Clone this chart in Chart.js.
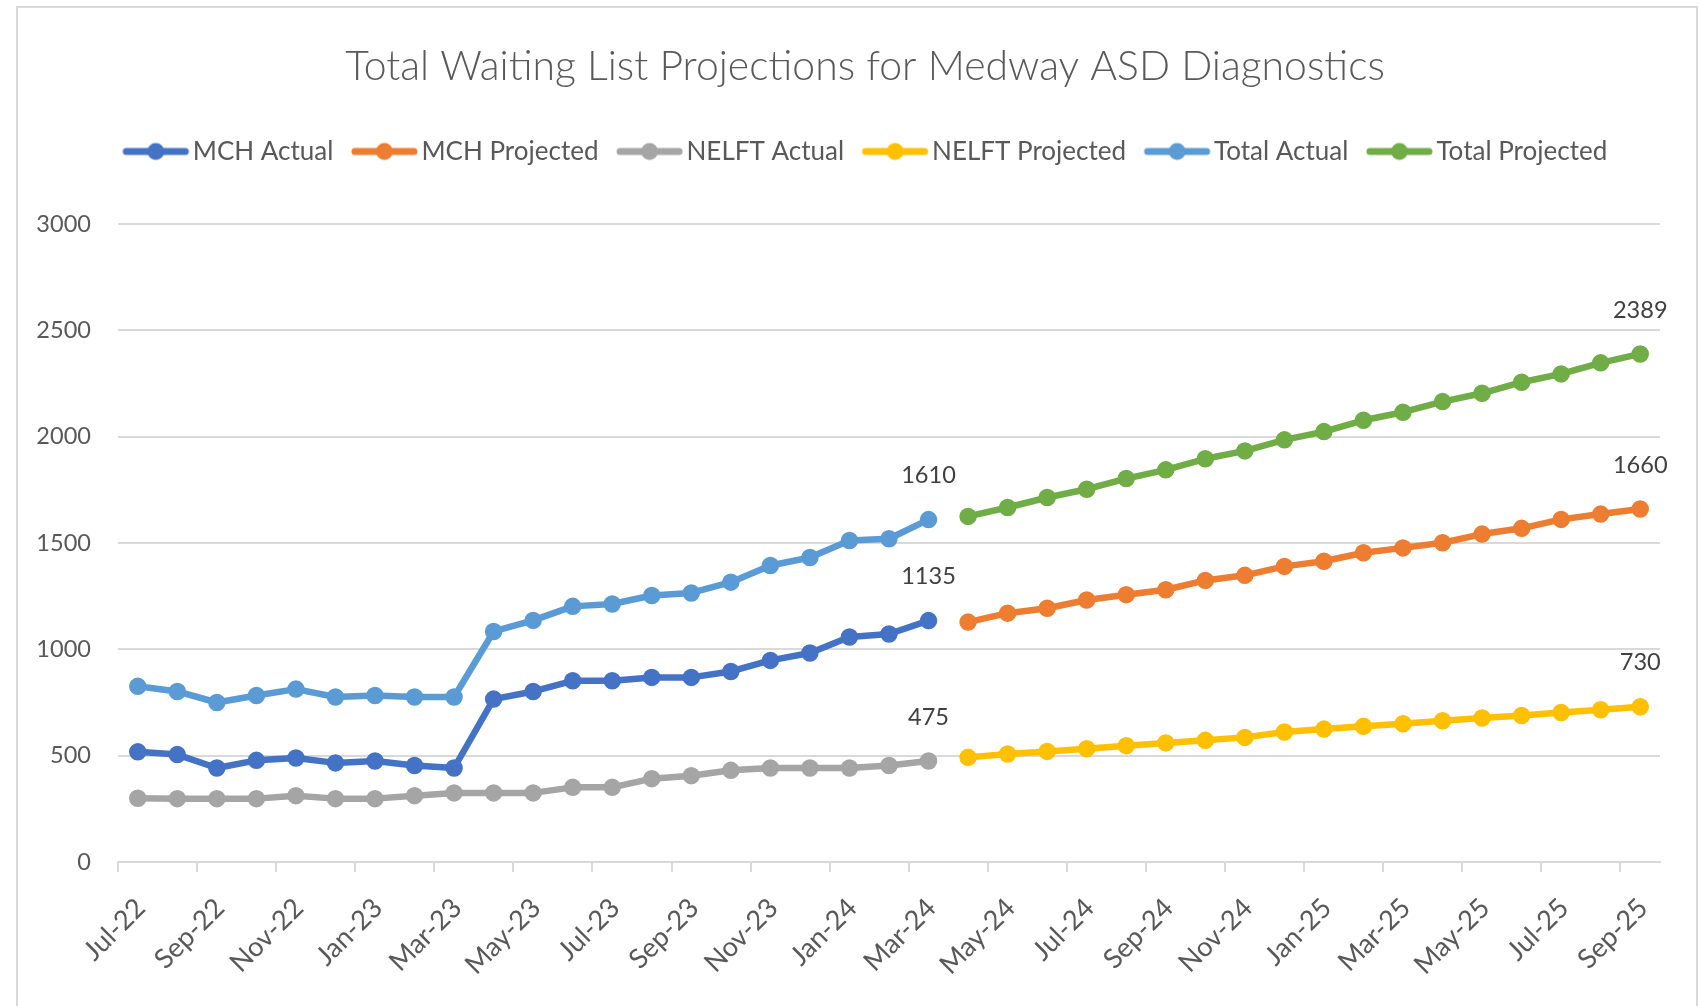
<!DOCTYPE html>
<html>
<head>
<meta charset="utf-8">
<script src="https://cdn.jsdelivr.net/npm/chart.js@4.4.1/dist/chart.umd.min.js"></script>
<style>
html,body{margin:0;padding:0;background:#fff;}
#wrap{width:1703px;height:1006px;position:relative;}
</style>
</head>
<body>
<div id="wrap"><canvas id="c"></canvas></div>
<script>
// ---------- DATA ----------
const months = ['Jul-22','Aug-22','Sep-22','Oct-22','Nov-22','Dec-22','Jan-23','Feb-23','Mar-23','Apr-23','May-23','Jun-23',
  'Jul-23','Aug-23','Sep-23','Oct-23','Nov-23','Dec-23','Jan-24','Feb-24','Mar-24','Apr-24','May-24','Jun-24',
  'Jul-24','Aug-24','Sep-24','Oct-24','Nov-24','Dec-24','Jan-25','Feb-25','Mar-25','Apr-25','May-25','Jun-25',
  'Jul-25','Aug-25','Sep-25'];
// Actual: Jul-22 .. Mar-24 ; Projected: Apr-24 .. Sep-25
const mchActual      = [518, 505, 442, 478, 489, 466, 475, 454, 442, 766, 802, 852, 852, 868, 868, 896, 948, 983, 1058, 1072, 1135];
const nelftActual    = [300, 298, 298, 298, 312, 298, 298, 312, 325, 325, 325, 351, 351, 392, 406, 431, 442, 442, 442, 454, 475];
const totalActual    = [826, 802, 750, 783, 813, 776, 783, 776, 776, 1084, 1136, 1202, 1213, 1253, 1265, 1316, 1394, 1432, 1512, 1520, 1610];
const mchProjected   = [1128, 1170, 1193, 1232, 1257, 1280, 1324, 1348, 1390, 1414, 1454, 1477, 1501, 1542, 1569, 1611, 1636, 1660];
const nelftProjected = [492, 508, 520, 533, 547, 560, 572, 586, 611, 625, 638, 650, 664, 677, 689, 703, 716, 730];
const totalProjected = [1625, 1667, 1714, 1753, 1803, 1844, 1896, 1933, 1985, 2024, 2077, 2115, 2165, 2204, 2256, 2295, 2347, 2389];
const yTickValues = [0, 500, 1000, 1500, 2000, 2500, 3000];
const seriesNames = ['MCH Actual','MCH Projected','NELFT Actual','NELFT Projected','Total Actual','Total Projected'];
const titleText = 'Total Waiting List Projections for Medway ASD Diagnostics';

// ---------- STYLE ----------
const seriesColors = ['#4472C4','#ED7D31','#A5A5A5','#FFC000','#5B9BD5','#70AD47'];
const FONT = 'Lato';
const TEXT = '#595959';
const GRID = '#D9D9D9';

function fitSize(texts, weight, target){
  const g = document.createElement('canvas').getContext('2d');
  g.font = weight + ' 100px ' + FONT;
  const w = texts.reduce((s,t)=>s+g.measureText(t).width,0);
  return 100*target/w;
}
const titleSize  = fitSize([titleText], 300, 1040);
const legendSize = fitSize(seriesNames, 'normal', 975);
const tickSize   = fitSize(['3000'], 'normal', 54.7);
const xTickSize  = tickSize * 1.15;

// layout targets
const W = 1703, H = 1006;
const TITLE_MID = 67, LEGEND_MID = 151.5;
const AREA_TOP = 224, AREA_BOTTOM = 862, AREA_LEFT = 118, AREA_RIGHT = 1660;
const PAD_L = 27;
const LEG_PAD = 18, LINE_LEN = 66, GAP = 4;

const titlePadTop = TITLE_MID - 0.6*titleSize;
const titlePadBottom = (LEGEND_MID - LEG_PAD - legendSize/2) - (TITLE_MID + 0.6*titleSize);
const legendBottom = LEGEND_MID + legendSize/2 + 10;
const spacer = AREA_TOP - legendBottom;

// legend marker images (line + circle)
const PSW = LINE_LEN + GAP - legendSize/2;
const half = Math.max(PSW/2, LINE_LEN - PSW/2) + 2;
function markerImg(color){
  const cv = document.createElement('canvas');
  cv.width = Math.ceil(2*half); cv.height = 26;
  const g = cv.getContext('2d');
  const cx = cv.width/2, cy = cv.height/2;
  const x0 = cx - PSW/2;
  g.strokeStyle = color; g.lineWidth = 7; g.lineCap = 'round';
  g.beginPath(); g.moveTo(x0 + 3.5, cy); g.lineTo(x0 + LINE_LEN - 3.5, cy); g.stroke();
  g.fillStyle = color;
  g.beginPath(); g.arc(x0 + LINE_LEN/2, cy, 8.5, 0, Math.PI*2); g.fill();
  return cv;
}
const legendImgs = seriesColors.map(markerImg);

// build padded series
const nA = mchActual.length;
const padActual = arr => months.map((m,i)=> i < arr.length ? arr[i] : null);
const padProj = arr => months.map((m,i)=> i >= nA ? arr[i-nA] : null);
const seriesData = [padActual(mchActual), padProj(mchProjected), padActual(nelftActual),
                    padProj(nelftProjected), padActual(totalActual), padProj(totalProjected)];

const datasets = seriesNames.map((name,i)=>({
  label: name,
  data: seriesData[i],
  borderColor: seriesColors[i],
  backgroundColor: seriesColors[i],
  pointBackgroundColor: seriesColors[i],
  pointBorderColor: seriesColors[i],
  borderWidth: 6.5,
  pointRadius: 8,
  pointBorderWidth: 1.5,
  pointHoverRadius: 8,
  tension: 0,
  borderJoinStyle: 'round',
  borderCapStyle: 'round',
  spanGaps: false,
  fill: false
}));

const framePlugin = {
  id: 'frame',
  beforeDraw(chart){
    const c = chart.ctx;
    c.save();
    c.fillStyle = '#fff'; c.fillRect(0,0,W,H);
    c.strokeStyle = '#D9D9D9'; c.lineWidth = 2;
    c.strokeRect(17, 7, 1680, 1010);
    c.restore();
  }
};
const lastLabelPlugin = {
  id: 'lastLabels',
  afterDatasetsDraw(chart){
    const c = chart.ctx;
    c.save();
    c.font = 'normal ' + tickSize + 'px ' + FONT;
    c.fillStyle = '#404040';
    c.textAlign = 'center'; c.textBaseline = 'middle';
    chart.data.datasets.forEach((ds, di) => {
      let last = -1;
      ds.data.forEach((v,i)=>{ if (v !== null) last = i; });
      const el = chart.getDatasetMeta(di).data[last];
      c.fillText(String(ds.data[last]), el.x, el.y - 44);
    });
    c.restore();
  }
};

new Chart(document.getElementById('c'), {
  type: 'line',
  data: { labels: months, datasets },
  plugins: [framePlugin, lastLabelPlugin],
  options: {
    responsive: true,
    maintainAspectRatio: false,
    devicePixelRatio: 1,
    animation: false,
    events: [],
    layout: { padding: { left: PAD_L, right: 0, top: 0, bottom: 0 } },
    plugins: {
      tooltip: { enabled: false },
      title: {
        display: true, text: titleText, color: TEXT,
        font: { family: FONT, size: titleSize, weight: 300, lineHeight: 1.2 },
        padding: { top: titlePadTop, bottom: titlePadBottom }
      },
      legend: {
        display: true, position: 'top', align: 'center',
        labels: {
          usePointStyle: true, pointStyleWidth: PSW, boxHeight: legendSize,
          padding: LEG_PAD, color: TEXT,
          font: { family: FONT, size: legendSize },
          generateLabels: (chart) => Chart.defaults.plugins.legend.labels.generateLabels(chart)
            .map((it, i) => Object.assign({}, it, { pointStyle: legendImgs[i] }))
        }
      },
      subtitle: {
        display: true, text: ' ', weight: 500, position: 'top',
        font: { size: 1, lineHeight: 1 },
        padding: { top: spacer - 1, bottom: 0 }
      }
    },
    scales: {
      x: {
        type: 'category',
        offset: true,
        grid: {
          offset: true, drawOnChartArea: false, drawTicks: true, tickLength: 10, lineWidth: 2,
          color: ctx => (ctx.index % 2 === 0 ? GRID : 'rgba(0,0,0,0)')
        },
        border: { display: true, color: GRID, width: 2 },
        ticks: {
          autoSkip: false, maxRotation: 45, minRotation: 45,
          color: TEXT, font: { family: FONT, size: xTickSize },
          padding: 20, labelOffset: 3,
          callback: (v, i) => (i % 2 === 0 ? months[i] : '')
        },
        afterFit: s => { s.height = H - AREA_BOTTOM; }
      },
      y: {
        type: 'linear', position: 'left',
        min: yTickValues[0], max: yTickValues[yTickValues.length-1],
        afterBuildTicks: s => { s.ticks = yTickValues.map(v => ({ value: v })); },
        grid: { color: GRID, lineWidth: 2, drawTicks: false },
        border: { display: false },
        ticks: {
          color: TEXT, font: { family: FONT, size: tickSize }, padding: 27,
          callback: v => String(v)
        },
        afterFit: s => { s.width = AREA_LEFT - PAD_L; }
      },
      y2: {
        type: 'linear', position: 'right', display: true,
        grid: { display: false, drawTicks: false }, border: { display: false },
        ticks: { display: false },
        afterFit: s => { s.width = W - AREA_RIGHT; }
      }
    }
  }
});
</script>
</body>
</html>
